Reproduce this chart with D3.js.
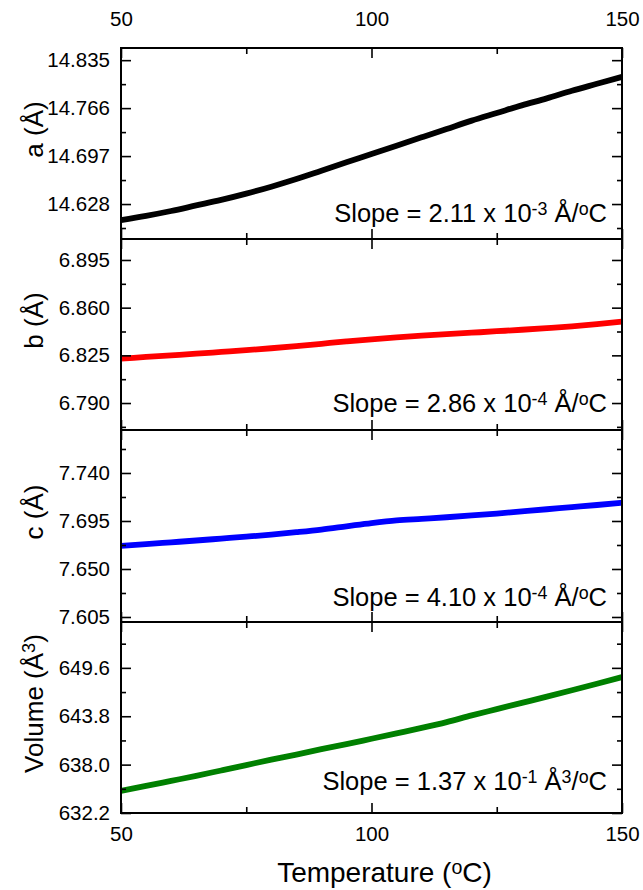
<!DOCTYPE html>
<html><head><meta charset="utf-8">
<script src="https://cdn.jsdelivr.net/npm/d3@7"></script>
<style>
body{margin:0;background:#fff}
text{font-family:Arial,"Liberation Sans",sans-serif;fill:#000}
</style>
</head><body>
<svg id="chart" width="643" height="890"></svg>
<script>
// ---- data ----
const temperature = [50,55,60,65,70,75,80,85,90,95,100,105,110,115,120,125,130,135,140,145,150];
const aValues = [14.605,14.611,14.618,14.626,14.634,14.643,14.653,14.664,14.676,14.688,14.700,14.712,14.724,14.736,14.748,14.759,14.770,14.780,14.791,14.801,14.811];
const bValues = [6.8226,6.8238,6.8250,6.8262,6.8275,6.8288,6.8302,6.8318,6.8335,6.8352,6.8368,6.8382,6.8394,6.8405,6.8416,6.8427,6.8438,6.8450,6.8463,6.8479,6.8497];
const cValues = [7.6717,7.6733,7.6750,7.6767,7.6785,7.6803,7.6822,7.6845,7.6870,7.6900,7.6930,7.6955,7.6970,7.6985,7.7002,7.7020,7.7040,7.7060,7.7080,7.7100,7.7121];
const volumeValues = [634.86,635.45,636.05,636.65,637.30,637.95,638.60,639.20,639.85,640.45,641.10,641.75,642.40,643.10,643.90,644.65,645.40,646.15,646.92,647.70,648.50];

const xTicks = [50,100,150];
const xMinorTicks = [75,125];
const aTicks = [14.628,14.697,14.766,14.835];
const bTicks = [6.790,6.825,6.860,6.895];
const cTicks = [7.605,7.650,7.695,7.740];
const volumeTicks = [632.2,638.0,643.8,649.6];
const aDomain = [14.5777,14.8525];
const bDomain = [6.7702,6.9104];
const cDomain = [7.6003,7.7803];
const volumeDomain = [632.2,655.1];

const seriesColors = ["#000000","#ff0000","#0000ff","#008000"];
const tickFormats = [".3f",".3f",".3f",".1f"];

// ---- layout ----
const svg = d3.select("#chart");
const left = 121, right = 622;
const panelTops = [48,239,430,622];
const bottom = 813;
const x = d3.scaleLinear().domain([50,150]).range([left,right]);
const FONT = "Arial, 'Liberation Sans', sans-serif";

const panels = [
  {values:aValues, ticks:aTicks, domain:aDomain, title:[["a (Å)",false]],
   slope:[["Slope = 2.11 x 10",false],["-3",true],[" Å/",false],["o",true],["C",false]], slopeOff:17},
  {values:bValues, ticks:bTicks, domain:bDomain, title:[["b (Å)",false]],
   slope:[["Slope = 2.86 x 10",false],["-4",true],[" Å/",false],["o",true],["C",false]], slopeOff:18},
  {values:cValues, ticks:cTicks, domain:cDomain, title:[["c (Å)",false]],
   slope:[["Slope = 4.10 x 10",false],["-4",true],[" Å/",false],["o",true],["C",false]], slopeOff:16},
  {values:volumeValues, ticks:volumeTicks, domain:volumeDomain, title:[["Volume (Å",false],["3",true],[")",false]],
   slope:[["Slope = 1.37 x 10",false],["-1",true],[" Å",false],["3",true],["/",false],["o",true],["C",false]], slopeOff:23}
];

function addRich(sel, parts){
  let prevSup = false;
  parts.forEach(([t,sup])=>{
    const ts = sel.append("tspan").text(t);
    if(sup && !prevSup){ ts.attr("dy","-0.42em").style("font-size","70%"); }
    else if(!sup && prevSup){ ts.attr("dy","0.294em"); }
    else if(sup){ ts.style("font-size","70%"); }
    prevSup = sup;
  });
}

panels.forEach((p,i)=>{
  const top = panelTops[i];
  const bot = i<3 ? panelTops[i+1] : bottom;
  const y = d3.scaleLinear().domain(p.domain).range([bot,top]);
  const step = p.ticks[1]-p.ticks[0];
  const minor = [p.ticks[0]-step/2, ...p.ticks.map(t=>t+step/2)]
     .filter(v=>v>=p.domain[0]-1e-9 && v<=p.domain[1]+1e-9);
  const g = svg.append("g");

  // data line
  const line = d3.line().curve(d3.curveMonotoneX).x((d,k)=>x(temperature[k])).y(d=>y(d));
  g.append("path").datum(p.values).attr("d",line)
    .attr("fill","none").attr("stroke",seriesColors[i]).attr("stroke-width",5.8)
    .attr("stroke-linejoin","round");

  // left axis (labels + major ticks)
  const la = g.append("g").attr("transform",`translate(${left},0)`)
    .call(d3.axisLeft(y).tickValues(p.ticks).tickSize(-10).tickPadding(11).tickFormat(d3.format(tickFormats[i])));
  la.select(".domain").remove();
  la.attr("font-size",null).attr("font-family",null);
  la.selectAll("text").style("font-size","20.5px").style("font-family",FONT);
  const lm = g.append("g").attr("transform",`translate(${left},0)`)
    .call(d3.axisLeft(y).tickValues(minor).tickSize(-5).tickFormat(""));
  lm.select(".domain").remove();
  // right axis
  const ra = g.append("g").attr("transform",`translate(${right},0)`)
    .call(d3.axisRight(y).tickValues(p.ticks).tickSize(-10).tickFormat(""));
  ra.select(".domain").remove();
  const rm = g.append("g").attr("transform",`translate(${right},0)`)
    .call(d3.axisRight(y).tickValues(minor).tickSize(-5).tickFormat(""));
  rm.select(".domain").remove();
  // top / bottom x ticks
  [[top,d3.axisTop],[bot,d3.axisBottom]].forEach(([yy,ax])=>{
    const a1 = g.append("g").attr("transform",`translate(0,${yy})`)
      .call(ax(x).tickValues(xTicks).tickSize(-10).tickFormat(""));
    a1.select(".domain").remove();
    const a2 = g.append("g").attr("transform",`translate(0,${yy})`)
      .call(ax(x).tickValues(xMinorTicks).tickSize(-6).tickFormat(""));
    a2.select(".domain").remove();
  });
  g.selectAll(".tick line").attr("stroke","#000").attr("stroke-width",1.6);

  // frame
  g.append("rect").attr("x",left).attr("y",top).attr("width",right-left).attr("height",bot-top)
    .attr("fill","none").attr("stroke","#000").attr("stroke-width",2);

  // y title
  const yt = g.append("text").attr("transform",`translate(43,${(top+bot)/2-14}) rotate(-90)`)
    .attr("text-anchor","middle").style("font-size","26px");
  addRich(yt,p.title);

  // slope text
  const st = g.append("text").attr("x",607).attr("y",bot-p.slopeOff)
    .attr("text-anchor","end").style("font-size","25.5px");
  addRich(st,p.slope);
});

// top x labels
const topAx = svg.append("g").attr("transform",`translate(0,${panelTops[0]})`)
  .call(d3.axisTop(x).tickValues(xTicks).tickSize(0).tickPadding(22));
topAx.select(".domain").remove();
topAx.selectAll("text").style("font-size","20.5px").style("font-family",FONT);
// bottom x labels
const botAx = svg.append("g").attr("transform",`translate(0,${bottom})`)
  .call(d3.axisBottom(x).tickValues(xTicks).tickSize(0).tickPadding(13));
botAx.select(".domain").remove();
botAx.selectAll("text").style("font-size","20.5px").style("font-family",FONT);

const xt = svg.append("text").attr("x",(left+right)/2+13).attr("y",882)
  .attr("text-anchor","middle").style("font-size","28px");
addRich(xt,[["Temperature (",false],["o",true],["C)",false]]);
</script>
</body></html>
